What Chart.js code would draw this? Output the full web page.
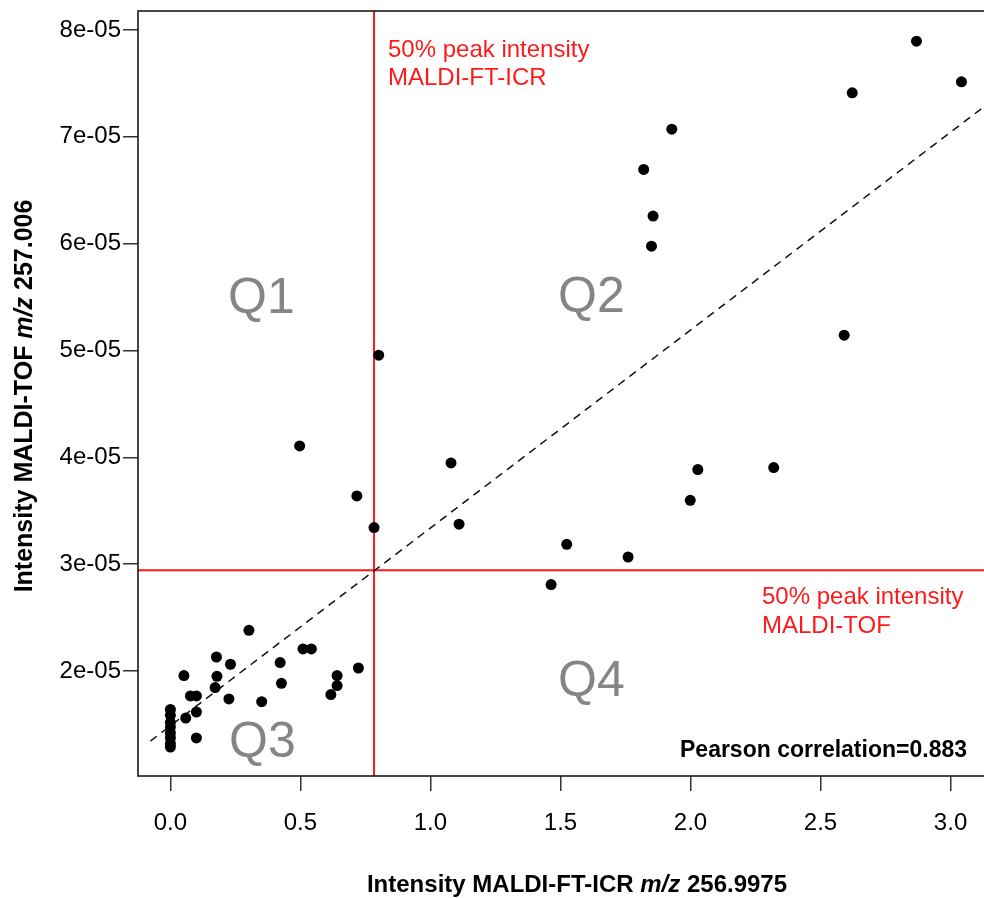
<!DOCTYPE html>
<html><head><meta charset="utf-8">
<script src="https://cdn.jsdelivr.net/npm/chart.js@4.4.1/dist/chart.umd.min.js"></script>
<style>
html,body{margin:0;padding:0;overflow:hidden;background:#fff;width:984px;height:898px}
#wrap{position:absolute;left:0;top:0;width:1000px;height:898px}
</style>
</head><body><div id="wrap"><canvas id="c" width="1000" height="898"></canvas></div>
<script>
// ---- data ----
const ftIcrIntensity = [
  0, 0, 0, 0, 0, 0, 0, 0,
  0.052, 0.059, 0.077, 0.100, 0.100, 0.100,
  0.177, 0.179, 0.172, 0.231, 0.225, 0.302, 0.351, 0.422, 0.427,
  0.510, 0.542, 0.641, 0.641, 0.617, 0.723,
  0.497, 0.717, 0.783, 0.801, 1.079, 1.110,
  1.464, 1.524, 1.760, 1.999, 2.028, 2.320,
  1.820, 1.856, 1.850, 1.928, 2.591, 2.622, 2.869, 3.042
];
const tofIntensity = [
  1.640e-5, 1.585e-5, 1.520e-5, 1.475e-5, 1.420e-5, 1.375e-5, 1.320e-5, 1.288e-5,
  1.957e-5, 1.560e-5, 1.766e-5, 1.766e-5, 1.616e-5, 1.373e-5,
  2.131e-5, 1.950e-5, 1.845e-5, 2.063e-5, 1.738e-5, 2.381e-5, 1.713e-5, 2.079e-5, 1.885e-5,
  2.206e-5, 2.206e-5, 1.957e-5, 1.863e-5, 1.779e-5, 2.028e-5,
  4.107e-5, 3.639e-5, 3.343e-5, 4.956e-5, 3.948e-5, 3.374e-5,
  2.809e-5, 3.186e-5, 3.067e-5, 3.598e-5, 3.886e-5, 3.904e-5,
  6.695e-5, 6.258e-5, 5.977e-5, 7.072e-5, 5.143e-5, 7.412e-5, 7.896e-5, 7.515e-5
];
const xTicks = [0, 0.5, 1.0, 1.5, 2.0, 2.5, 3.0];
const xTickLabels = ['0.0', '0.5', '1.0', '1.5', '2.0', '2.5', '3.0'];
const yTicks = [2e-5, 3e-5, 4e-5, 5e-5, 6e-5, 7e-5, 8e-5];
const yTickLabels = ['2e-05', '3e-05', '4e-05', '5e-05', '6e-05', '7e-05', '8e-05'];
const ftIcrHalfPeak = 0.783;      // 50% peak intensity MALDI-FT-ICR
const tofHalfPeak = 2.943e-5;     // 50% peak intensity MALDI-TOF
const fitLineX = [-0.077, 3.3];
const fitLineY = [1.344e-5, 7.599e-5];
const xRange = [-0.1246, 3.1517];
const yRange = [1.017e-5, 8.178e-5];
const pearsonLabel = 'Pearson correlation=0.883';

// ---- chart ----
const FONT = '"Liberation Sans", Arial, Helvetica, sans-serif';
const points = ftIcrIntensity.map((x, i) => ({x: x, y: tofIntensity[i]}));

const framePlugin = {
  id: 'frame',
  afterDatasetsDraw(chart) {
    const a = chart.chartArea, ctx = chart.ctx;
    ctx.save();
    ctx.strokeStyle = '#1a1a1a';
    ctx.lineWidth = 1.6;
    ctx.strokeRect(a.left, a.top, a.right - a.left, a.bottom - a.top);
    ctx.restore();
  }
};

function drawSegments(ctx, segs, cx, y) {
  let total = 0;
  segs.forEach(s => { ctx.font = s.font; s.w = ctx.measureText(s.t).width; total += s.w; });
  let x = cx - total / 2;
  segs.forEach(s => { ctx.font = s.font; ctx.fillText(s.t, x, y); x += s.w; });
}

const textPlugin = {
  id: 'texts',
  afterDraw(chart) {
    const ctx = chart.ctx;
    ctx.save();
    ctx.textBaseline = 'alphabetic';
    ctx.textAlign = 'left';
    // red threshold labels
    ctx.fillStyle = '#ff1a1a';
    ctx.font = '24px ' + FONT;
    ctx.fillText('50% peak intensity', 388, 57);
    ctx.fillText('MALDI-FT-ICR', 388, 85);
    ctx.fillText('50% peak intensity', 762, 604);
    ctx.fillText('MALDI-TOF', 762, 633);
    // quadrant labels
    ctx.fillStyle = '#858585';
    ctx.font = '50px ' + FONT;
    ctx.fillText('Q1', 228, 313);
    ctx.fillText('Q2', 558, 312);
    ctx.fillText('Q3', 229, 757);
    ctx.fillText('Q4', 558, 696);
    // pearson
    ctx.fillStyle = '#000';
    ctx.font = 'bold 23px ' + FONT;
    ctx.textAlign = 'right';
    ctx.fillText(pearsonLabel, 967, 757);
    ctx.textAlign = 'left';
    // axis titles
    const b = 'bold 24px ' + FONT, bi = 'italic bold 24px ' + FONT;
    drawSegments(ctx, [
      {t: 'Intensity MALDI-FT-ICR ', font: b}, {t: 'm/z', font: bi}, {t: ' 256.9975', font: b}
    ], 577, 892);
    const b2 = 'bold 25px ' + FONT, bi2 = 'italic bold 25px ' + FONT;
    ctx.translate(32, 396);
    ctx.rotate(-Math.PI / 2);
    drawSegments(ctx, [
      {t: 'Intensity MALDI-TOF ', font: b2}, {t: 'm/z', font: bi2}, {t: ' 257.006', font: b2}
    ], 0, 0);
    ctx.restore();
  }
};

new Chart(document.getElementById('c'), {
  type: 'scatter',
  data: {
    datasets: [
      {
        label: 'samples', data: points, order: 0,
        pointRadius: 5.5, pointHoverRadius: 5.5,
        backgroundColor: '#000', borderWidth: 0, pointBorderWidth: 0, clip: false
      },
      {
        label: 'FT-ICR 50%', order: 2, showLine: true, pointRadius: 0,
        data: [{x: ftIcrHalfPeak, y: yRange[0]}, {x: ftIcrHalfPeak, y: yRange[1]}],
        borderColor: '#ff1a1a', borderWidth: 2, clip: 0
      },
      {
        label: 'TOF 50%', order: 2, showLine: true, pointRadius: 0,
        data: [{x: xRange[0], y: tofHalfPeak}, {x: xRange[1], y: tofHalfPeak}],
        borderColor: '#ff1a1a', borderWidth: 2, clip: 0
      },
      {
        label: 'fit', order: 1, showLine: true, pointRadius: 0,
        data: fitLineX.map((x, i) => ({x: x, y: fitLineY[i]})),
        borderColor: '#111', borderWidth: 1.5, borderDash: [8, 6], clip: 0
      }
    ]
  },
  options: {
    responsive: false, animation: false, devicePixelRatio: 1,
    layout: {padding: {left: 0, top: 11, right: 10, bottom: 0}},
    plugins: {legend: {display: false}, tooltip: {enabled: false}},
    events: [],
    scales: {
      x: {
        type: 'linear', min: xRange[0], max: xRange[1],
        afterBuildTicks: s => { s.ticks = xTicks.map(v => ({value: v})); },
        afterFit: s => { s.height = 122; s.paddingLeft = 0; s.paddingRight = 0; },
        ticks: {
          callback: (v, i) => xTickLabels[i], autoSkip: false, maxRotation: 0,
          font: {family: FONT, size: 24}, color: '#000', padding: 18
        },
        grid: {drawOnChartArea: false, drawTicks: true, tickLength: 15, color: '#333', lineWidth: 1.5},
        border: {display: false}
      },
      y: {
        type: 'linear', min: yRange[0], max: yRange[1],
        afterBuildTicks: s => { s.ticks = yTicks.map(v => ({value: v})); },
        afterFit: s => { s.width = 138; s.paddingTop = 0; s.paddingBottom = 0; },
        ticks: {
          callback: (v, i) => yTickLabels[i], autoSkip: false,
          font: {family: FONT, size: 24}, color: '#000', padding: 2
        },
        grid: {drawOnChartArea: false, drawTicks: true, tickLength: 15, color: '#333', lineWidth: 1.5},
        border: {display: false}
      }
    }
  },
  plugins: [framePlugin, textPlugin]
});
</script>
</body></html>
